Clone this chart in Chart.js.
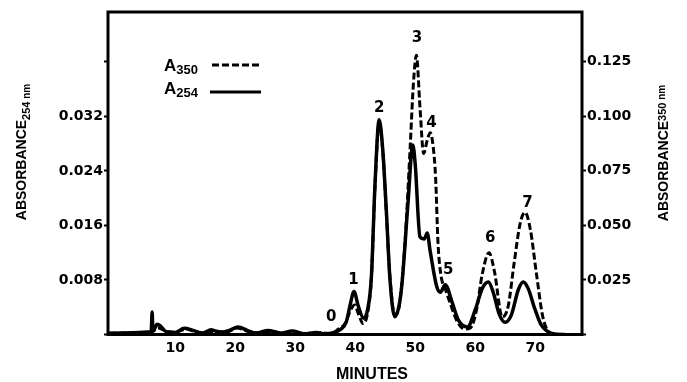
<!DOCTYPE html>
<html>
<head>
<meta charset="utf-8">
<script src="https://cdn.jsdelivr.net/npm/chart.js@4/dist/chart.umd.min.js"></script>
<style>
  html, body { margin: 0; padding: 0; background: #fff; }
  #wrap { width: 687px; height: 382px; position: relative; }
</style>
</head>
<body>
<div id="wrap"><canvas id="c"></canvas></div>
<script>
// ---- data ----
const minutes254 = [-1, 6.0, 6.15, 6.3, 7.0, 7.6, 8.5, 10, 11.5, 13, 14.5, 16, 17.5, 19, 20.5, 22, 23.5, 25.5, 27.5, 29.5, 31.5, 33.5, 35, 36.5, 37.5, 38.5, 39.2, 39.8, 40.5, 41.4, 42.1, 42.7, 43.3, 44.0, 44.6, 45.2, 45.8, 46.6, 47.3, 47.8, 48.8, 49.6, 50.0, 50.8, 51.5, 52.0, 52.5, 53.6, 54.2, 55.0, 56.2, 57.2, 58.7, 60.0, 61.2, 62.2, 63.0, 64.0, 65.0, 66.0, 67.2, 68.0, 68.8, 70.0, 71.0, 72.0, 73.0, 75];
const abs254 = [0.0002, 0.0004, 0.0033, 0.0005, 0.0015, 0.0012, 0.0004, 0.0003, 0.0009, 0.0006, 0.0002, 0.0007, 0.0003, 0.0006, 0.0011, 0.0006, 0.0002, 0.0006, 0.0002, 0.0005, 0.0001, 0.0003, 0.0001, 0.0003, 0.0007, 0.0018, 0.0045, 0.0063, 0.0042, 0.0024, 0.0038, 0.0085, 0.022, 0.0315, 0.027, 0.018, 0.008, 0.0026, 0.0042, 0.0075, 0.0193, 0.0278, 0.025, 0.0143, 0.0140, 0.0149, 0.0122, 0.0070, 0.0062, 0.0073, 0.0046, 0.0021, 0.0011, 0.0036, 0.0068, 0.0077, 0.0062, 0.0030, 0.0018, 0.0028, 0.0066, 0.0077, 0.0068, 0.0036, 0.0014, 0.0005, 0.0001, 0.0];

const minutes350 = [-1, 6, 7.2, 8.5, 10, 11.8, 13.5, 15.5, 17, 18.5, 20.3, 22, 24, 26, 28, 30, 32, 34, 36, 37.2, 38.3, 39.2, 39.9, 40.6, 41.3, 42.0, 42.7, 43.3, 44.0, 44.6, 45.2, 45.8, 46.6, 47.4, 48.3, 49.2, 49.7, 50.2, 50.8, 51.4, 52.0, 52.5, 53.0, 53.4, 53.8, 54.3, 55.0, 56.0, 57.0, 58.2, 59.2, 60.2, 61.2, 62.3, 63.2, 64.5, 65.5, 66.5, 67.5, 68.3, 69.2, 70.2, 71.2, 72.0, 73.0, 75];
const abs350 = [0.0006, 0.001, 0.003, 0.0015, 0.001, 0.0025, 0.0012, 0.0008, 0.0015, 0.001, 0.003, 0.0015, 0.0008, 0.0015, 0.0006, 0.0012, 0.0005, 0.0008, 0.0004, 0.0025, 0.005, 0.011, 0.0135, 0.009, 0.005, 0.009, 0.026, 0.068, 0.097, 0.084, 0.055, 0.026, 0.009, 0.014, 0.042, 0.088, 0.115, 0.128, 0.104, 0.083, 0.089, 0.0925, 0.086, 0.072, 0.042, 0.027, 0.021, 0.013, 0.006, 0.0025, 0.003, 0.011, 0.028, 0.0375, 0.029, 0.008, 0.013, 0.033, 0.051, 0.056, 0.048, 0.028, 0.009, 0.002, 0.0, 0.0];

const xTickLabels = [10, 20, 30, 40, 50, 60, 70];
const leftTickLabels = [0.008, 0.016, 0.024, 0.032];
const rightTickLabels = [0.025, 0.050, 0.075, 0.100, 0.125];

const peakLabels = ['0', '1', '2', '3', '4', '5', '6', '7'];
const peakLabelMinutes = [36.0, 39.7, 44.0, 50.3, 52.7, 55.5, 62.5, 68.7];
const peakLabelAbs254 = [0.0026, 0.0080, 0.0332, 0.0435, 0.0310, 0.0095, 0.0142, 0.0193];

const FONT = '"DejaVu Sans", sans-serif';
const NFONT = '"Liberation Sans", Arial, sans-serif';

function pts(xs, ys) { return xs.map((x, i) => ({ x: x, y: ys[i] })); }
function near(v, list) { return list.find(l => Math.abs(l - v) < 1e-6); }

function drawRich(ctx, cx, cy, angle, parts, alignLeft) {
  ctx.save();
  ctx.translate(cx, cy);
  ctx.rotate(angle);
  let total = 0;
  parts.forEach(p => { ctx.font = 'bold ' + p.size + 'px ' + p.family; p.w = ctx.measureText(p.text).width; total += p.w; });
  let x = alignLeft ? 0 : -total / 2;
  const base = parts[0].size * 0.36;
  ctx.fillStyle = '#000';
  ctx.textBaseline = 'alphabetic';
  ctx.textAlign = 'left';
  parts.forEach(p => { ctx.font = 'bold ' + p.size + 'px ' + p.family; ctx.fillText(p.text, x, base + (p.dy || 0)); x += p.w; });
  ctx.restore();
}

const decor = {
  id: 'decor',
  afterDraw(chart) {
    const ctx = chart.ctx, a = chart.chartArea;
    const xs = chart.scales.x, ys = chart.scales.y;
    ctx.save();
    // frame
    ctx.strokeStyle = '#000';
    ctx.lineWidth = 3;
    ctx.strokeRect(a.left, a.top, a.right - a.left, a.bottom - a.top);
    // peak labels
    ctx.fillStyle = '#000';
    ctx.font = 'bold 15px ' + FONT;
    ctx.textAlign = 'center';
    ctx.textBaseline = 'middle';
    peakLabels.forEach((t, i) => {
      ctx.fillText(t, xs.getPixelForValue(peakLabelMinutes[i]), ys.getPixelForValue(peakLabelAbs254[i]));
    });
    // legend
    drawRich(ctx, 164, 65, 0, [
      { text: 'A', size: 17, family: NFONT },
      { text: '350', size: 13, family: NFONT, dy: 3 }
    ], true);
    drawRich(ctx, 164, 88, 0, [
      { text: 'A', size: 17, family: NFONT },
      { text: '254', size: 13, family: NFONT, dy: 3 }
    ], true);
    ctx.lineWidth = 3;
    ctx.setLineDash([7, 3]);
    ctx.beginPath(); ctx.moveTo(212, 65); ctx.lineTo(261, 65); ctx.stroke();
    ctx.setLineDash([]);
    ctx.beginPath(); ctx.moveTo(210, 92); ctx.lineTo(261, 92); ctx.stroke();
    // axis titles
    drawRich(ctx, 21, 152, -Math.PI / 2, [
      { text: 'ABSORBANCE', size: 14, family: NFONT },
      { text: '254', size: 11, family: NFONT, dy: 4 },
      { text: ' nm', size: 10, family: NFONT, dy: 4 }
    ]);
    drawRich(ctx, 663, 153, -Math.PI / 2, [
      { text: 'ABSORBANCE', size: 14, family: NFONT },
      { text: '350', size: 11, family: NFONT, dy: -2 },
      { text: ' nm', size: 10, family: NFONT, dy: -3 }
    ]);
    drawRich(ctx, 372, 373, 0, [
      { text: 'MINUTES', size: 16, family: NFONT }
    ]);
    ctx.restore();
  }
};

new Chart(document.getElementById('c'), {
  type: 'line',
  data: {
    datasets: [
      {
        label: 'A350',
        data: pts(minutes350, abs350),
        yAxisID: 'yR',
        borderColor: '#000',
        borderWidth: 3,
        borderDash: [7, 3],
        pointRadius: 0,
        fill: false,
        cubicInterpolationMode: 'monotone'
      },
      {
        label: 'A254',
        data: pts(minutes254, abs254),
        yAxisID: 'y',
        borderColor: '#000',
        borderWidth: 3.5,
        pointRadius: 0,
        fill: false,
        cubicInterpolationMode: 'monotone'
      }
    ]
  },
  options: {
    responsive: true,
    maintainAspectRatio: false,
    animation: false,
    devicePixelRatio: 1,
    layout: { padding: { top: 12, left: 0, right: 0, bottom: 0 } },
    plugins: { legend: { display: false }, tooltip: { enabled: false } },
    scales: {
      x: {
        type: 'linear',
        min: -1.2,
        max: 77.8,
        afterFit(s) { s.height = 47.5; },
        border: { display: false },
        grid: { drawOnChartArea: false, drawTicks: false },
        ticks: {
          stepSize: 10,
          includeBounds: false,
          autoSkip: false,
          maxRotation: 0,
          padding: 5,
          color: '#000',
          font: { family: FONT, size: 14, weight: 'bold' },
          callback: v => near(v, xTickLabels) !== undefined ? String(v) : ''
        }
      },
      y: {
        type: 'linear',
        position: 'left',
        min: 0,
        max: 0.0473,
        afterFit(s) { s.width = 108; },
        border: { display: false },
        grid: { drawOnChartArea: false, tickLength: 4, tickWidth: 2, tickColor: '#000' },
        ticks: {
          stepSize: 0.008,
          includeBounds: false,
          padding: 1,
          color: '#000',
          font: { family: FONT, size: 14, weight: 'bold' },
          callback: v => near(v, leftTickLabels) !== undefined ? v.toFixed(3) : ''
        }
      },
      yR: {
        type: 'linear',
        position: 'right',
        min: 0,
        max: 0.1478,
        afterFit(s) { s.width = 105; },
        border: { display: false },
        grid: { drawOnChartArea: false, tickLength: 4, tickWidth: 2, tickColor: '#000' },
        ticks: {
          stepSize: 0.025,
          includeBounds: false,
          padding: 1,
          color: '#000',
          font: { family: FONT, size: 14, weight: 'bold' },
          callback: v => near(v, rightTickLabels) !== undefined ? v.toFixed(3) : ''
        }
      }
    }
  },
  plugins: [decor]
});
</script>
</body>
</html>
